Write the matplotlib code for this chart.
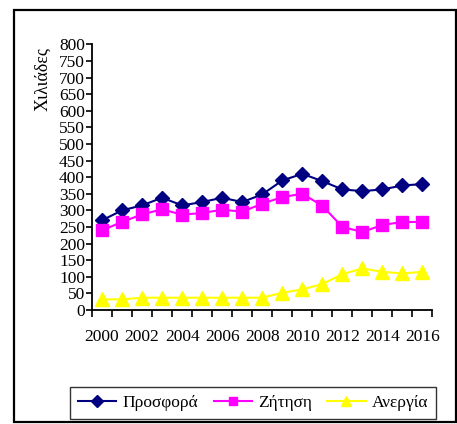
import matplotlib
matplotlib.use("Agg")
import matplotlib.pyplot as plt
from matplotlib.patches import Rectangle

years = list(range(2000, 2017))
prosfora = [270, 300, 315, 338, 315, 325, 338, 325, 348, 390, 410, 388, 363, 358, 363, 375, 379]
zitisi = [240, 265, 288, 303, 287, 292, 302, 296, 320, 340, 350, 314, 250, 235, 256, 265, 265]
anergia = [32, 32, 37, 37, 37, 37, 37, 37, 37, 52, 62, 78, 108, 125, 115, 110, 115]
series_names = ["Προσφορά", "Ζήτηση", "Ανεργία"]

plt.rcParams['font.family'] = ['Liberation Serif', 'DejaVu Serif']
fs = 12.5

fig = plt.figure(figsize=(4.57, 4.24), dpi=100)
ax = fig.add_axes([92 / 457, 1 - 310 / 424, 340.5 / 457, 265.7 / 424])

x = list(range(len(years)))
ax.plot(x, prosfora, color='#000080', lw=1.5, marker='D', ms=7.5, label=series_names[0])
ax.plot(x, zitisi, color='#FF00FF', lw=1.5, marker='s', ms=8, label=series_names[1])
ax.plot(x, anergia, color='#FFFF00', lw=1.5, marker='^', ms=10, label=series_names[2])

ax.set_xlim(-0.5, len(years) - 0.5)
ax.set_ylim(0, 800)
ax.set_yticks(range(0, 801, 50))
ax.set_xticks([i - 0.5 for i in range(len(years) + 1)])
ax.set_xticklabels([])
ax.set_xticks(x[::2], minor=True)
ax.set_xticklabels([str(y) for y in years[::2]], minor=True)
ax.tick_params(axis='x', which='major', length=5, width=1.2, direction='out')
ax.tick_params(axis='x', which='minor', length=0, pad=14, labelsize=fs)
ax.tick_params(axis='y', length=4, width=1.2, direction='out', pad=1, labelsize=fs)

for side in ['top', 'right']:
    ax.spines[side].set_visible(False)
for side in ['left', 'bottom']:
    ax.spines[side].set_linewidth(1.3)

fig.text(43 / 457, 1 - 79 / 424, "Χιλιάδες", rotation=90, ha='center', va='center', fontsize=fs + 0.5)

leg = fig.legend(loc='center', bbox_to_anchor=(253 / 457, 1 - 403 / 424), ncol=3,
                 frameon=True, fancybox=False, fontsize=fs, handlelength=2.2,
                 handletextpad=0.35, columnspacing=0.9, borderpad=0.45, markerscale=0.75)
leg.get_frame().set_edgecolor('black')
leg.get_frame().set_linewidth(1.0)

fig.patches.append(Rectangle((14 / 457, 1 - 422 / 424), 442 / 457, 412 / 424,
                             transform=fig.transFigure, fill=False, edgecolor='black', lw=1.6))

fig.savefig("out.png", dpi=100)
